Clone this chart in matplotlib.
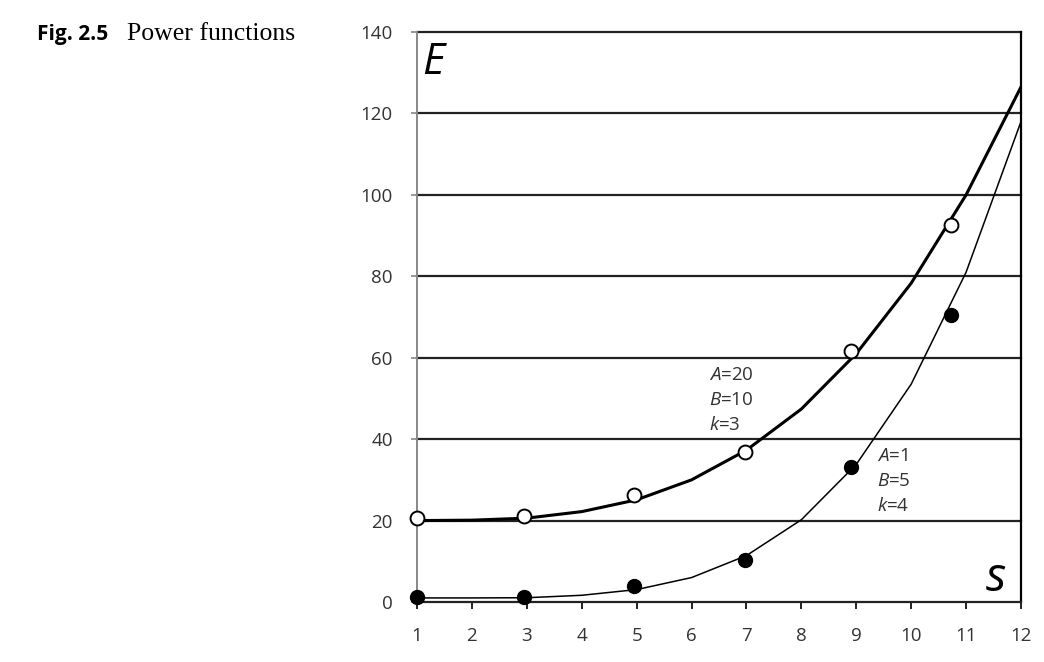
import matplotlib
matplotlib.use("Agg")
import matplotlib.pyplot as plt

# ---- data ----
s_curve = [1, 2, 3, 4, 5, 6, 7, 8, 9, 10, 11, 12]
upper_curve = [20.0, 20.1, 20.6, 22.2, 25.1, 30.0, 37.3, 47.4, 61.0, 78.3, 100.0, 126.5]
lower_curve = [1.0, 1.0, 1.05, 1.65, 3.05, 6.0, 11.4, 20.2, 33.8, 53.5, 81.0, 118.0]

s_points = [1.0, 2.95, 4.95, 6.98, 8.91, 10.72]
upper_points = [20.7, 21.1, 26.3, 36.9, 61.6, 92.5]
lower_points = [1.15, 1.15, 4.0, 10.4, 33.1, 70.5]

x_ticks = list(range(1, 13))
y_ticks = [0, 20, 40, 60, 80, 100, 120, 140]

plt.rcParams['font.family'] = ['Open Sans', 'DejaVu Sans']
plt.rcParams['mathtext.fontset'] = 'custom'
plt.rcParams['mathtext.it'] = 'Open Sans:italic'
plt.rcParams['mathtext.rm'] = 'Open Sans'

fig = plt.figure(figsize=(10.44, 6.62), dpi=100)
ax = fig.add_axes([417/1044, 1 - 602/662, (1021 - 417)/1044, (602 - 32)/662])

ax.set_xlim(1, 12)
ax.set_ylim(0, 140)

# horizontal grid lines
for yv in y_ticks[1:]:
    ax.axhline(yv, color='#222222', lw=1.6, zorder=1, clip_on=False)

ax.plot(s_curve, upper_curve, color='black', lw=2.2, zorder=3, solid_joinstyle='round')
ax.plot(s_curve, lower_curve, color='black', lw=1.1, zorder=3)

ax.plot(s_points, upper_points, 'o', ms=10, mfc='white', mec='black', mew=1.4, zorder=4, clip_on=False)
ax.plot(s_points, lower_points, 'o', ms=10, mfc='black', mec='black', zorder=4, clip_on=False)

ax.spines['top'].set_visible(False)
ax.spines['left'].set_color('#888888')
ax.spines['left'].set_linewidth(1.4)
ax.spines['right'].set_color('black')
ax.spines['right'].set_linewidth(1.6)
ax.spines['bottom'].set_color('#222222')
ax.spines['bottom'].set_linewidth(1.6)

ax.set_xticks(x_ticks)
ax.set_yticks(y_ticks)
ax.tick_params(axis='x', direction='out', length=5, width=1.4, color='#222222',
               pad=13, labelsize=13.5, labelcolor='#333333')
ax.tick_params(axis='y', direction='out', length=4.5, width=1.2, color='#888888',
               pad=13, labelsize=13.5, labelcolor='#333333')

ax.text(1.1, 129.6, 'E', fontsize=31, style='italic', ha='left', va='baseline', color='black')
ax.text(11.73, 2.7, 's', fontsize=34, style='italic', ha='right', va='baseline', color='black')

ann_kw = dict(fontsize=13.5, color='#333333', ha='left', va='center')
ax.text(6.32, 55.8, '$\\mathit{A}$=20', **ann_kw)
ax.text(6.32, 49.7, '$\\mathit{B}$=10', **ann_kw)
ax.text(6.32, 43.5, '$\\mathit{k}$=3', **ann_kw)
ax.text(9.38, 35.9, '$\\mathit{A}$=1', **ann_kw)
ax.text(9.38, 29.6, '$\\mathit{B}$=5', **ann_kw)
ax.text(9.38, 23.6, '$\\mathit{k}$=4', **ann_kw)

fig.text(37/1044, 1 - 40/662, 'Fig. 2.5', fontsize=15, fontweight='bold',
         family=['Open Sans', 'DejaVu Sans'], ha='left', va='baseline')
fig.text(127/1044, 1 - 40/662, 'Power functions', fontsize=18.5,
         family=['Liberation Serif', 'DejaVu Serif'], ha='left', va='baseline')

fig.savefig('out.png', dpi=100)
